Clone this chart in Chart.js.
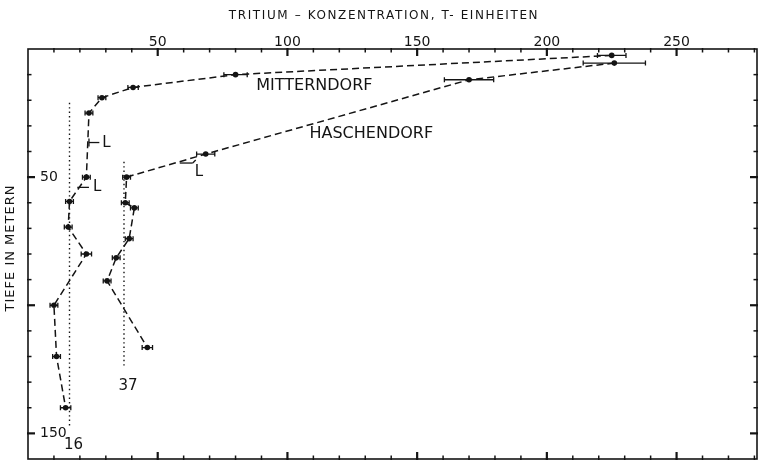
<!DOCTYPE html>
<html>
<head>
<meta charset="utf-8">
<script src="https://cdn.jsdelivr.net/npm/chart.js@4.4.1/dist/chart.umd.min.js"></script>
<style>
  html, body { margin: 0; padding: 0; background: #fff; }
  canvas { display: block; }
</style>
</head>
<body>
<canvas id="chart" width="761" height="463"></canvas>
<script>
// Tritium profiles of two wells: concentration (T-Einheiten) against depth (m)
const tritiumTickLabels = [50, 100, 150, 200, 250];
const depthTickLabels = [50, 150];

const mitterndorfTritium = [225, 80, 40.5, 28.5, 23.5, 22.5, 16, 15.5, 22.5, 10, 11, 14.5];
const mitterndorfDepth   = [2.5, 10, 15, 19, 25, 50, 59.5, 69.5, 80, 100, 120, 140];
const mitterndorfError   = [5.5, 4.5, 2, 1.5, 1.5, 1.5, 1.5, 1.5, 2, 1.5, 1.5, 2];

const haschendorfTritium = [226, 170, 68.5, 38, 37.5, 41, 39, 34, 30.5, 46];
const haschendorfDepth   = [5.5, 12, 41, 50, 60, 62, 74, 81.5, 90.5, 116.5];
const haschendorfError   = [12, 9.5, 3.5, 1.5, 1.5, 1.5, 1.5, 1.5, 1.5, 2];

// mean concentration of the deep samples, drawn as dotted verticals
const meanTritium   = [16, 37];
const meanDepthFrom = [21, 44];
const meanDepthTo   = [147, 124];

// "L" marks
const limitTritiumFrom = [23.5, 19, 58.5];
const limitTritiumTo   = [27.5, 23.5, 63.5];
const limitDepth       = [36.5, 54, 44.5];

const INK = '#141414';
const FONT = '"DejaVu Sans", sans-serif';

const toPoints = (xs, ys) => xs.map((v, i) => ({ x: v, y: ys[i] }));

const profileStyle = {
  showLine: true,
  borderColor: INK,
  borderWidth: 1.5,
  borderDash: [7, 4],
  tension: 0,
  pointRadius: 2.8,
  pointBackgroundColor: INK,
  pointBorderWidth: 0,
};

const meanDatasets = meanTritium.map((m, i) => ({
  label: 'Mittel ' + m,
  data: [{ x: m, y: meanDepthFrom[i] }, { x: m, y: meanDepthTo[i] }],
  showLine: true,
  borderColor: INK,
  borderWidth: 1.4,
  borderDash: [1.4, 3],
  pointRadius: 0,
}));

const decorations = {
  id: 'decorations',
  beforeDatasetsDraw(chart) {
    const { ctx, scales: { x, y } } = chart;
    ctx.save();
    ctx.strokeStyle = INK;
    ctx.lineWidth = 1.3;
    const bars = (xs, ys, es) => xs.forEach((v, i) => {
      const l = x.getPixelForValue(v - es[i]);
      const r = x.getPixelForValue(v + es[i]);
      const py = y.getPixelForValue(ys[i]);
      ctx.beginPath();
      ctx.moveTo(l, py); ctx.lineTo(r, py);
      ctx.moveTo(l, py - 2.5); ctx.lineTo(l, py + 2.5);
      ctx.moveTo(r, py - 2.5); ctx.lineTo(r, py + 2.5);
      ctx.stroke();
    });
    bars(mitterndorfTritium, mitterndorfDepth, mitterndorfError);
    bars(haschendorfTritium, haschendorfDepth, haschendorfError);
    ctx.restore();
  },
  afterDraw(chart) {
    const { ctx, chartArea: a, scales: { x, y } } = chart;
    ctx.save();
    ctx.strokeStyle = INK;
    ctx.fillStyle = INK;

    // frame
    ctx.lineWidth = 1.6;
    ctx.strokeRect(a.left, a.top, a.right - a.left, a.bottom - a.top);

    const seg = (x1, y1, x2, y2) => { ctx.beginPath(); ctx.moveTo(x1, y1); ctx.lineTo(x2, y2); ctx.stroke(); };

    // inward tick marks on all four sides
    x.ticks.forEach(t => {
      if (t.value <= x.min || t.value >= x.max) return;
      const px = x.getPixelForValue(t.value);
      const major = t.value % 50 === 0;
      const len = major ? 7 : 3.5;
      ctx.lineWidth = major ? 2.2 : 1.5;
      seg(px, a.top - 1, px, a.top + len);
      seg(px, a.bottom + 1, px, a.bottom - len);
    });
    y.ticks.forEach(t => {
      if (t.value <= y.min || t.value >= y.max) return;
      const py = y.getPixelForValue(t.value);
      const major = t.value % 50 === 0;
      const len = major ? 7 : 3.5;
      ctx.lineWidth = major ? 2.2 : 1.5;
      seg(a.left - 1, py, a.left + len, py);
      seg(a.right + 1, py, a.right - len, py);
    });

    // "L" marks
    ctx.lineWidth = 1.3;
    ctx.font = '15px ' + FONT;
    ctx.textAlign = 'left';
    ctx.textBaseline = 'middle';
    const lShift = [[3, 1], [4, 0], [2, 9]];
    limitDepth.forEach((d, i) => {
      const l = x.getPixelForValue(limitTritiumFrom[i]);
      const r = x.getPixelForValue(limitTritiumTo[i]);
      const py = y.getPixelForValue(d);
      seg(l, py, r, py);
      if (i === 0) seg(l, py - 4, l, py + 4);
      if (i === 2) seg(r, py, r + 3, py - 3);
      ctx.fillText('L', r + lShift[i][0], py + lShift[i][1]);
    });

    // mean values below the dotted lines
    ctx.font = '15px ' + FONT;
    ctx.textAlign = 'center';
    ctx.textBaseline = 'top';
    meanTritium.forEach((m, i) => {
      ctx.fillText(String(m), x.getPixelForValue(m) + 4, y.getPixelForValue(meanDepthTo[i]) + 12);
    });

    // series names
    ctx.font = '16px ' + FONT;
    ctx.textAlign = 'left';
    ctx.textBaseline = 'middle';
    ctx.fillText('MITTERNDORF', x.getPixelForValue(88), y.getPixelForValue(14.3));
    ctx.fillText('HASCHENDORF', x.getPixelForValue(108.5), y.getPixelForValue(33.3));

    // axis titles
    ctx.font = '12px ' + FONT;
    ctx.letterSpacing = '1.6px';
    ctx.textAlign = 'center';
    ctx.fillText('TRITIUM – KONZENTRATION, T- EINHEITEN', 384, 16);
    ctx.font = '13px ' + FONT;
    ctx.letterSpacing = '1px';
    ctx.translate(11, 248);
    ctx.rotate(-Math.PI / 2);
    ctx.fillText('TIEFE IN METERN', 0, 0);
    ctx.restore();
  }
};

new Chart(document.getElementById('chart'), {
  type: 'scatter',
  data: {
    datasets: [
      { label: 'MITTERNDORF', data: toPoints(mitterndorfTritium, mitterndorfDepth), ...profileStyle },
      { label: 'HASCHENDORF', data: toPoints(haschendorfTritium, haschendorfDepth), ...profileStyle },
      ...meanDatasets,
    ],
  },
  options: {
    responsive: false,
    animation: false,
    devicePixelRatio: 1,
    layout: { padding: { top: 0, right: 3, bottom: 1, left: 0 } },
    plugins: { legend: { display: false }, tooltip: { enabled: false } },
    scales: {
      x: {
        type: 'linear',
        position: 'top',
        min: 0,
        max: 281,
        grid: { display: false, drawTicks: false },
        border: { display: false },
        afterFit: s => { s.height = 49; s.paddingLeft = 0; s.paddingRight = 0; },
        ticks: {
          stepSize: 10,
          includeBounds: false,
          autoSkip: false,
          maxRotation: 0,
          padding: -2,
          color: INK,
          font: { family: FONT, size: 14 },
          callback: v => tritiumTickLabels.includes(v) ? String(v) : '',
        },
      },
      y: {
        type: 'linear',
        position: 'left',
        reverse: true,
        min: 0,
        max: 160,
        grid: { display: false, drawTicks: false },
        border: { display: false },
        afterFit: s => { s.width = 28; s.paddingTop = 0; s.paddingBottom = 0; },
        ticks: {
          stepSize: 10,
          includeBounds: false,
          autoSkip: false,
          mirror: true,
          padding: 12,
          color: INK,
          font: { family: FONT, size: 14 },
          callback: v => depthTickLabels.includes(v) ? String(v) : '',
        },
      },
    },
  },
  plugins: [decorations],
});
</script>
</body>
</html>
